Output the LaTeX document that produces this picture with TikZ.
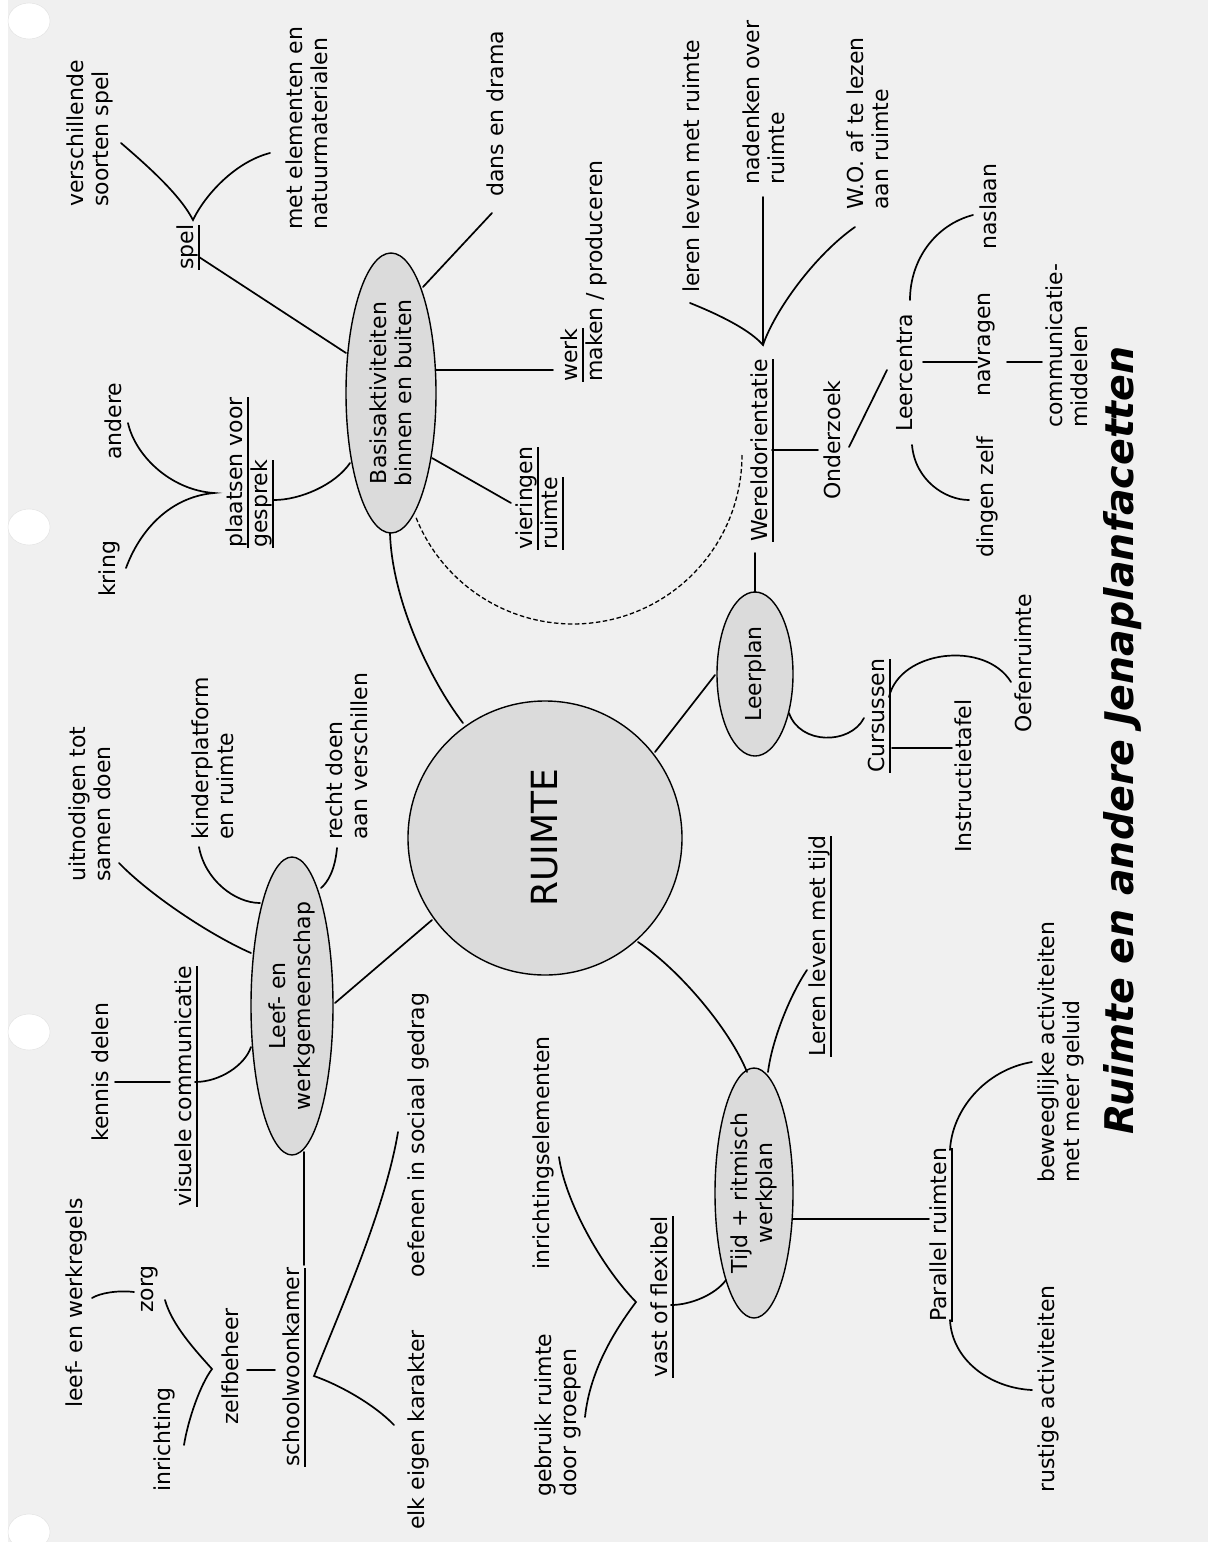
\documentclass[tikz,border=0pt]{standalone}
\usepackage{fontspec}
\setmainfont{DejaVu Sans}
\usetikzlibrary{shapes.geometric}
\newcommand{\lblf}{\fontsize{22}{25}\selectfont}
\newcommand{\titlef}{\fontsize{39.5}{44}\selectfont\bfseries\itshape}
\newcommand{\bigf}{\fontsize{36}{40}\selectfont}
\newcommand{\myul}[1]{\leavevmode\setbox0\hbox{#1}\rlap{\vrule width\wd0 height -4.5pt depth 6.6pt}\box0}
\begin{document}
\begin{tikzpicture}[x=1pt,y=-1pt,
  lbl/.style={rotate=90, anchor=west, align=left, inner sep=0pt, font=\lblf},
  bub/.style={ellipse, draw=black, line width=1.4pt, fill=black!14, rotate=90, inner sep=0pt, align=center, font=\lblf},
  con/.style={line width=1.7pt, line cap=round},
  dcon/.style={line width=1.3pt, dash pattern=on 4.5pt off 2.5pt}]
\useasboundingbox (0,0) rectangle (1208,1542);
\fill[black!6] (0,0) rectangle (1208,1542);
\fill[white] (0,0) rectangle (8,1542);
\foreach \yy/\nm in {21/h1,527/h2,1032/h3,1532/h4}
  \fill[white, draw=black!12] (29,\yy) ellipse [x radius=21, y radius=18];

% ---------- labels ----------
\node[lbl] (verschil) at (90,207) {verschillende\\soorten spel};
\node[lbl] (spel) at (188,270) {\myul{spel}};
\node[lbl] (elem) at (307,230) {met elementen en\\natuurmaterialen};
\node[lbl] (dans) at (495,197) {dans en drama};
\node[bub, minimum width=280, minimum height=90] (basis) at (391,393) {Basisaktiviteiten\\binnen en buiten};
\node[lbl] (werk) at (584,382) {\myul{werk}\\maken / produceren};
\node[lbl] (andere) at (113,460) {andere};
\node[lbl] (plaats) at (250,548) {\myul{plaatsen voor}\\\myul{gesprek}};
\node[lbl] (vier) at (540,550) {\myul{vieringen}\\\myul{ruimte}};
\node[lbl] (kring) at (109,597) {kring};
\node[lbl] (lerenr) at (691,293) {leren leven met ruimte};
\node[lbl] (naden) at (764,185) {nadenken over\\ruimte};
\node[lbl] (wo) at (868,210) {W.O. af te lezen\\aan ruimte};
\node[lbl] (wereld) at (762,542) {\myul{Wereldorientatie}};
\node[lbl] (onder) at (832,500) {Onderzoek};
\node[lbl] (leerc) at (905,432) {Leercentra};
\node[lbl] (navr) at (987,397) {navragen};
\node[lbl] (commu) at (1067,428) {communicatie-\\middelen};
\node[lbl] (nasl) at (988,250) {naslaan};
\node[lbl] (dingen) at (987,558) {dingen zelf};
\node[bub, minimum width=164, minimum height=76] (leerplan) at (755,674) {Leerplan};
\node[lbl] (curs) at (880,773) {\myul{Cursussen}};
\node[lbl] (instr) at (963,853) {Instructietafel};
\node[lbl] (oefen) at (1023,733) {Oefenruimte};
\node[bub, circle, minimum size=274, font=\bigf] (ruimte) at (545,838) {RUIMTE};
\node[lbl] (kinder) at (213,840) {kinderplatform\\en ruimte};
\node[lbl] (uitnod) at (90,882) {uitnodigen tot\\samen doen};
\node[lbl] (recht) at (347,840) {recht doen\\aan verschillen};
\node[bub, minimum width=298, minimum height=82] (leef) at (292,1006) {Leef- en\\werkgemeenschap};
\node[lbl] (lerent) at (820,1057) {\myul{Leren leven met tijd}};
\node[bub, minimum width=250, minimum height=78] (tijd) at (754,1193) {Tijd + ritmisch\\werkplan};
\node[lbl] (parallel) at (941,1322) {\myul{Parallel ruimten}};
\node[lbl] (beweeg) at (1061,1183) {beweeglijke activiteiten\\met meer geluid};
\node[lbl] (rustig) at (1048,1493) {rustige activiteiten};
\node[lbl] (vast) at (662,1378) {\myul{vast of flexibel}};
\node[lbl] (kennis) at (100,1142) {kennis delen};
\node[lbl] (visueel) at (186,1207) {\myul{visuele communicatie}};
\node[lbl] (regels) at (76,1408) {leef- en werkregels};
\node[lbl] (zorg) at (150,1313) {zorg};
\node[lbl] (inricht) at (164,1492) {inrichting};
\node[lbl] (zelf) at (230,1425) {zelfbeheer};
\node[lbl] (school) at (294,1467) {\myul{schoolwoonkamer}};
\node[lbl] (oefsoc) at (418,1278) {oefenen in sociaal gedrag};
\node[lbl] (elk) at (418,1530) {elk eigen karakter};
\node[lbl] (inrel) at (543,1270) {inrichtingselementen};
\node[lbl] (gebruik) at (558,1497) {gebruik ruimte\\door groepen};
\node[lbl, font=\titlef] (title) at (1123,1135) {Ruimte en andere Jenaplanfacetten};

% ---------- connector end points ----------
\path (121,143) coordinate (vsA) (193,220) coordinate (vsB) (270,153) coordinate (vsC)
      (199,257) coordinate (spA) (346,353) coordinate (spB)
      (423,287) coordinate (daA) (492,213) coordinate (daB)
      (436,370) coordinate (weA) (553,370) coordinate (weB)
      (432,458) coordinate (viA) (511,503) coordinate (viB)
      (274,500) coordinate (geA) (350,463) coordinate (geB)
      (128,423) coordinate (anA) (214,493) coordinate (anB) (126,568) coordinate (krA)
      (390,533) coordinate (brA) (463,723) coordinate (brB)
      (690,303) coordinate (wfA) (763,345) coordinate (wfB) (855,227) coordinate (wfC) (763,197) coordinate (wfD)
      (772,450) coordinate (woA) (818,450) coordinate (woB)
      (849,447) coordinate (olA) (887,370) coordinate (olB)
      (923,362) coordinate (lnA) (977,362) coordinate (lnB)
      (1007,362) coordinate (ncA) (1042,362) coordinate (ncB)
      (910,300) coordinate (nsA) (973,215) coordinate (nsB)
      (912,445) coordinate (dzA) (969,500) coordinate (dzB)
      (755,553) coordinate (wlA) (755,592) coordinate (wlB)
      (655,752) coordinate (rlA) (715,675) coordinate (rlB)
      (789,713) coordinate (lcA) (864,718) coordinate (lcB)
      (892,748) coordinate (ciA) (952,748) coordinate (ciB)
      (889,697) coordinate (coA) (1011,682) coordinate (coB)
      (638,942) coordinate (rtA) (747,1072) coordinate (rtB)
      (807,970) coordinate (ltA) (768,1072) coordinate (ltB)
      (793,1219) coordinate (tpA) (929,1219) coordinate (tpB)
      (1032,1062) coordinate (pbA) (950,1150) coordinate (pbB)
      (950,1320) coordinate (prA) (1032,1390) coordinate (prB)
      (671,1305) coordinate (vtA) (726,1280) coordinate (vtB)
      (559,1157) coordinate (igA) (636,1302) coordinate (igB) (585,1417) coordinate (igC)
      (119,863) coordinate (luA) (251,953) coordinate (luB)
      (199,847) coordinate (lkA) (260,903) coordinate (lkB)
      (337,848) coordinate (lrA) (321,888) coordinate (lrB)
      (335,1003) coordinate (lmA) (432,920) coordinate (lmB)
      (195,1082) coordinate (vlA) (251,1047) coordinate (vlB)
      (115,1082) coordinate (kvA) (170,1082) coordinate (kvB)
      (304,1152) coordinate (lsA) (304,1265) coordinate (lsB)
      (134,1292) coordinate (zrA) (92,1298) coordinate (zrB)
      (165,1300) coordinate (zzA) (212,1369) coordinate (zzB) (184,1445) coordinate (zzC)
      (247,1370) coordinate (zsA) (275,1370) coordinate (zsB)
      (398,1132) coordinate (soA) (314,1376) coordinate (soB) (394,1425) coordinate (soC);

% ---------- connectors ----------
\draw[con] (vsA) .. controls (150,168) and (180,195) .. (vsB) .. controls (205,195) and (235,162) .. (vsC);
\draw[con] (spA) -- (spB);
\draw[con] (daA) -- (daB);
\draw[con] (weA) -- (weB);
\draw[con] (viA) -- (viB);
\draw[con] (geA) .. controls (300,500) and (335,485) .. (geB);
\draw[con] (anA) .. controls (135,455) and (170,490) .. (anB) .. controls (170,497) and (140,530) .. (krA);
\draw[con] (brA) .. controls (392,600) and (430,680) .. (brB);
\draw[dcon] plot[domain=0:159, samples=80] ({573+169*cos(\x)},{455+169*sin(\x)});
\draw[con] (wfA) .. controls (720,315) and (750,330) .. (wfB) .. controls (775,310) and (815,255) .. (wfC);
\draw[con] (wfB) -- (wfD);
\draw[con] (woA) -- (woB);
\draw[con] (olA) -- (olB);
\draw[con] (lnA) -- (lnB);
\draw[con] (ncA) -- (ncB);
\draw[con] (nsA) .. controls (910,260) and (935,225) .. (nsB);
\draw[con] (dzA) .. controls (915,480) and (945,500) .. (dzB);
\draw[con] (wlA) -- (wlB);
\draw[con] (rlA) -- (rlB);
\draw[con] (lcA) .. controls (800,745) and (850,745) .. (lcB);
\draw[con] (ciA) -- (ciB);
\draw[con] (coA) .. controls (900,650) and (985,640) .. (coB);
\draw[con] (rtA) .. controls (680,970) and (730,1030) .. (rtB);
\draw[con] (ltA) .. controls (790,995) and (772,1040) .. (ltB);
\draw[con] (tpA) -- (tpB);
\draw[con] (pbA) .. controls (985,1070) and (952,1110) .. (pbB);
\draw[con] (prA) .. controls (952,1360) and (990,1388) .. (prB);
\draw[con] (vtA) .. controls (690,1305) and (715,1295) .. (vtB);
\draw[con] (igA) .. controls (565,1200) and (600,1265) .. (igB) .. controls (615,1330) and (590,1370) .. (igC);
\draw[con] (luA) .. controls (150,895) and (210,935) .. (luB);
\draw[con] (lkA) .. controls (205,880) and (235,903) .. (lkB);
\draw[con] (lrA) .. controls (335,870) and (328,882) .. (lrB);
\draw[con] (lmA) -- (lmB);
\draw[con] (vlA) .. controls (220,1082) and (245,1065) .. (vlB);
\draw[con] (kvA) -- (kvB);
\draw[con] (lsA) -- (lsB);
\draw[con] (zrA) .. controls (118,1290) and (100,1293) .. (zrB);
\draw[con] (zzA) .. controls (172,1325) and (195,1350) .. (zzB) .. controls (200,1385) and (188,1420) .. (zzC);
\draw[con] (zsA) -- (zsB);
\draw[con] (soA) .. controls (385,1210) and (340,1310) .. (soB) .. controls (340,1385) and (375,1405) .. (soC);
\end{tikzpicture}
\end{document}
